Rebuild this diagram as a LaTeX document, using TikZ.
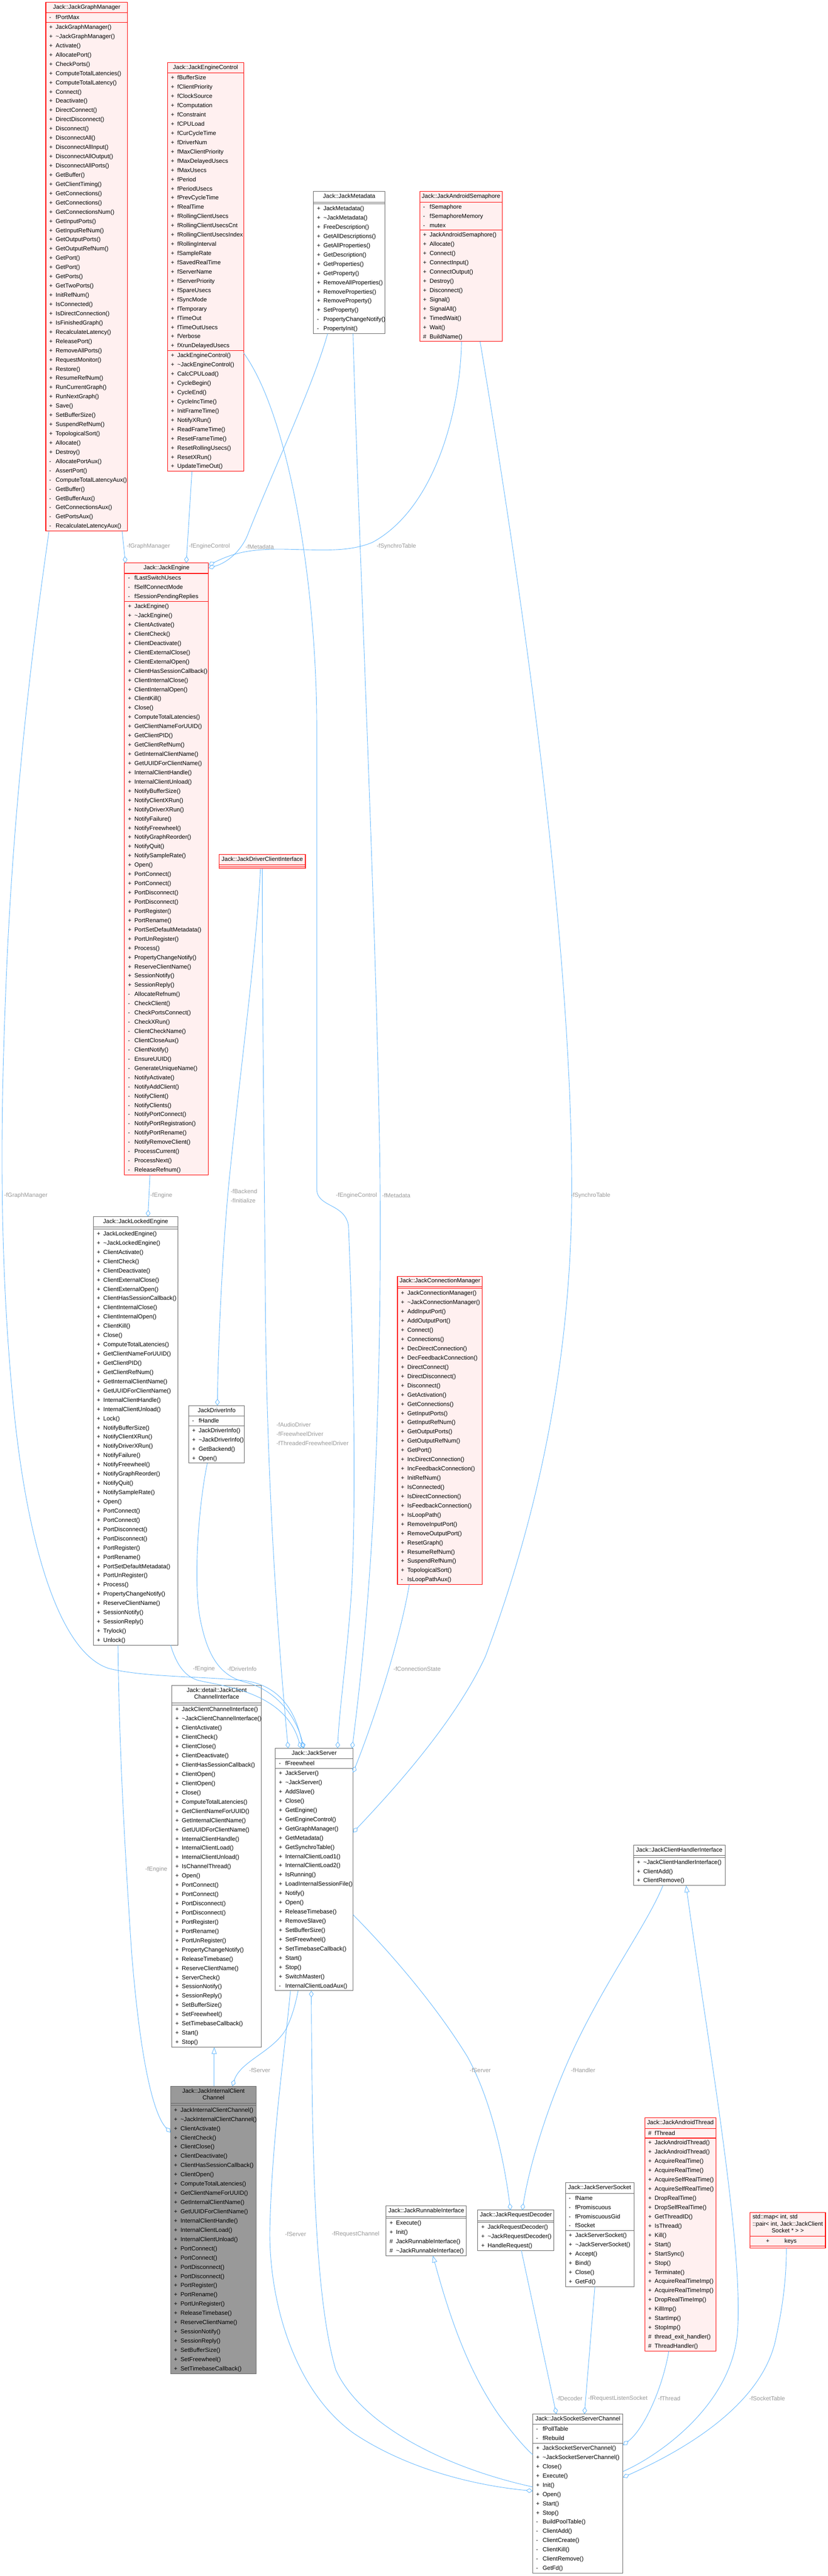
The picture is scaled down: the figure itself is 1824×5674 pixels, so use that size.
\documentclass[tikz,border=0pt]{standalone}
\usepackage{fontspec}
\setmainfont{Liberation Sans}
\usetikzlibrary{arrows.meta,calc}
\definecolor{jred}{HTML}{FF0000}
\definecolor{jpink}{HTML}{FFF0F0}
\definecolor{jgray}{HTML}{666666}
\definecolor{jmain}{HTML}{999999}
\definecolor{jblue}{HTML}{63B8FF}
\definecolor{jlabel}{HTML}{9A9A9A}
\newcommand\vP{\makebox[14.3bp][l]{+}}
\newcommand\vM{\makebox[14.3bp][l]{-}}
\newcommand\vH{\makebox[14.3bp][l]{\#}}
\newcommand\tld{\textasciitilde}
\newcommand\ttl[2]{\hbox to #1bp{\hss\fontsize{13bp}{15bp}\selectfont\begin{tabular}{@{}c@{}}\rule{0pt}{14bp}#2\rule[-8bp]{0pt}{0pt}\end{tabular}\hss}}
\newcommand\rws[2]{\hbox to #1bp{\hskip7.5bp\begin{tabular}{@{}l@{}}#2\end{tabular}\hss}}
\tikzset{
  box/.style={draw, outer sep=0pt, inner xsep=0pt, inner ysep=0.5bp, anchor=north west, font=\fontsize{13bp}{20.35bp}\selectfont},
  rb/.style={box, draw=jred, fill=jpink, line width=1.3bp},
  gb/.style={box, draw=jgray, fill=white, line width=1.1bp},
  mb/.style={box, draw=jgray, fill=jmain, line width=1.1bp},
  agg/.style={draw=jblue, line width=1bp, arrows={Diamond[open,length=15bp,width=10bp]-}},
  inh/.style={draw=jblue, line width=1bp, arrows={Triangle[open,length=15bp,width=11bp]-}},
  lbl/.style={text=jlabel, inner sep=0pt, anchor=west, font=\fontsize{13bp}{20.35bp}\selectfont, align=left},
}
\begin{document}
\begin{tikzpicture}[x=1bp,y=-1bp]
\useasboundingbox[fill=white] (0,0) rectangle (1824,5674);

% ---------- JackGraphManager
\node[rb] (gm) at (101,5) {\ttl{180}{Jack::JackGraphManager}};
\node[rb] (gm-a) at (gm.south west) {\rws{180}{\vM fPortMax}};
\node[rb] (gm-m) at (gm-a.south west) {\rws{180}{%
\vP JackGraphManager()\\ \vP \tld JackGraphManager()\\ \vP Activate()\\ \vP AllocatePort()\\ \vP CheckPorts()\\
\vP ComputeTotalLatencies()\\ \vP ComputeTotalLatency()\\ \vP Connect()\\ \vP Deactivate()\\ \vP DirectConnect()\\
\vP DirectDisconnect()\\ \vP Disconnect()\\ \vP DisconnectAll()\\ \vP DisconnectAllInput()\\ \vP DisconnectAllOutput()\\
\vP DisconnectAllPorts()\\ \vP GetBuffer()\\ \vP GetClientTiming()\\ \vP GetConnections()\\ \vP GetConnections()\\
\vP GetConnectionsNum()\\ \vP GetInputPorts()\\ \vP GetInputRefNum()\\ \vP GetOutputPorts()\\ \vP GetOutputRefNum()\\
\vP GetPort()\\ \vP GetPort()\\ \vP GetPorts()\\ \vP GetTwoPorts()\\ \vP InitRefNum()\\
\vP IsConnected()\\ \vP IsDirectConnection()\\ \vP IsFinishedGraph()\\ \vP RecalculateLatency()\\ \vP ReleasePort()\\
\vP RemoveAllPorts()\\ \vP RequestMonitor()\\ \vP Restore()\\ \vP ResumeRefNum()\\ \vP RunCurrentGraph()\\
\vP RunNextGraph()\\ \vP Save()\\ \vP SetBufferSize()\\ \vP SuspendRefNum()\\ \vP TopologicalSort()\\
\vP Allocate()\\ \vP Destroy()\\ \vM AllocatePortAux()\\ \vM AssertPort()\\ \vM ComputeTotalLatencyAux()\\
\vM GetBuffer()\\ \vM GetBufferAux()\\ \vM GetConnectionsAux()\\ \vM GetPortsAux()\\ \vM RecalculateLatencyAux()}};

% ---------- JackEngineControl
\node[rb] (ec) at (369,138) {\ttl{168}{Jack::JackEngineControl}};
\node[rb] (ec-a) at (ec.south west) {\rws{168}{%
\vP fBufferSize\\ \vP fClientPriority\\ \vP fClockSource\\ \vP fComputation\\ \vP fConstraint\\
\vP fCPULoad\\ \vP fCurCycleTime\\ \vP fDriverNum\\ \vP fMaxClientPriority\\ \vP fMaxDelayedUsecs\\
\vP fMaxUsecs\\ \vP fPeriod\\ \vP fPeriodUsecs\\ \vP fPrevCycleTime\\ \vP fRealTime\\
\vP fRollingClientUsecs\\ \vP fRollingClientUsecsCnt\\ \vP fRollingClientUsecsIndex\\ \vP fRollingInterval\\ \vP fSampleRate\\
\vP fSavedRealTime\\ \vP fServerName\\ \vP fServerPriority\\ \vP fSpareUsecs\\ \vP fSyncMode\\
\vP fTemporary\\ \vP fTimeOut\\ \vP fTimeOutUsecs\\ \vP fVerbose\\ \vP fXrunDelayedUsecs}};
\node[rb] (ec-m) at (ec-a.south west) {\rws{168}{%
\vP JackEngineControl()\\ \vP \tld JackEngineControl()\\ \vP CalcCPULoad()\\ \vP CycleBegin()\\ \vP CycleEnd()\\
\vP CycleIncTime()\\ \vP InitFrameTime()\\ \vP NotifyXRun()\\ \vP ReadFrameTime()\\ \vP ResetFrameTime()\\
\vP ResetRollingUsecs()\\ \vP ResetXRun()\\ \vP UpdateTimeOut()}};

% ---------- JackMetadata
\node[gb] (md) at (691,422) {\ttl{157}{Jack::JackMetadata}};
\node[gb] (md-a) at (md.south west) {\rws{157}{}};
\node[gb] (md-m) at (md-a.south west) {\rws{157}{%
\vP JackMetadata()\\ \vP \tld JackMetadata()\\ \vP FreeDescription()\\ \vP GetAllDescriptions()\\ \vP GetAllProperties()\\
\vP GetDescription()\\ \vP GetProperties()\\ \vP GetProperty()\\ \vP RemoveAllProperties()\\ \vP RemoveProperties()\\
\vP RemoveProperty()\\ \vP SetProperty()\\ \vM PropertyChangeNotify()\\ \vM PropertyInit()}};

% ---------- JackAndroidSemaphore
\node[rb] (as) at (925,422) {\ttl{182}{Jack::JackAndroidSemaphore}};
\node[rb] (as-a) at (as.south west) {\rws{182}{\vM fSemaphore\\ \vM fSemaphoreMemory\\ \vM mutex}};
\node[rb] (as-m) at (as-a.south west) {\rws{182}{%
\vP JackAndroidSemaphore()\\ \vP Allocate()\\ \vP Connect()\\ \vP ConnectInput()\\ \vP ConnectOutput()\\
\vP Destroy()\\ \vP Disconnect()\\ \vP Signal()\\ \vP SignalAll()\\ \vP TimedWait()\\ \vP Wait()\\ \vH BuildName()}};

% ---------- JackEngine
\node[rb] (en) at (274.5,1240) {\ttl{185}{Jack::JackEngine}};
\node[rb] (en-a) at (en.south west) {\rws{185}{\vM fLastSwitchUsecs\\ \vM fSelfConnectMode\\ \vM fSessionPendingReplies}};
\node[rb] (en-m) at (en-a.south west) {\rws{185}{%
\vP JackEngine()\\ \vP \tld JackEngine()\\ \vP ClientActivate()\\ \vP ClientCheck()\\ \vP ClientDeactivate()\\
\vP ClientExternalClose()\\ \vP ClientExternalOpen()\\ \vP ClientHasSessionCallback()\\ \vP ClientInternalClose()\\ \vP ClientInternalOpen()\\
\vP ClientKill()\\ \vP Close()\\ \vP ComputeTotalLatencies()\\ \vP GetClientNameForUUID()\\ \vP GetClientPID()\\
\vP GetClientRefNum()\\ \vP GetInternalClientName()\\ \vP GetUUIDForClientName()\\ \vP InternalClientHandle()\\ \vP InternalClientUnload()\\
\vP NotifyBufferSize()\\ \vP NotifyClientXRun()\\ \vP NotifyDriverXRun()\\ \vP NotifyFailure()\\ \vP NotifyFreewheel()\\
\vP NotifyGraphReorder()\\ \vP NotifyQuit()\\ \vP NotifySampleRate()\\ \vP Open()\\ \vP PortConnect()\\
\vP PortConnect()\\ \vP PortDisconnect()\\ \vP PortDisconnect()\\ \vP PortRegister()\\ \vP PortRename()\\
\vP PortSetDefaultMetadata()\\ \vP PortUnRegister()\\ \vP Process()\\ \vP PropertyChangeNotify()\\ \vP ReserveClientName()\\
\vP SessionNotify()\\ \vP SessionReply()\\ \vM AllocateRefnum()\\ \vM CheckClient()\\ \vM CheckPortsConnect()\\
\vM CheckXRun()\\ \vM ClientCheckName()\\ \vM ClientCloseAux()\\ \vM ClientNotify()\\ \vM EnsureUUID()\\
\vM GenerateUniqueName()\\ \vM NotifyActivate()\\ \vM NotifyAddClient()\\ \vM NotifyClient()\\ \vM NotifyClients()\\
\vM NotifyPortConnect()\\ \vM NotifyPortRegistration()\\ \vM NotifyPortRename()\\ \vM NotifyRemoveClient()\\ \vM ProcessCurrent()\\
\vM ProcessNext()\\ \vM ReleaseRefnum()}};

% ---------- JackDriverClientInterface
\node[rb] (dci) at (483,1882) {\ttl{190}{Jack::JackDriverClientInterface}};
\node[rb] (dci-a) at (dci.south west) {\rws{190}{}};
\node[rb] (dci-m) at (dci-a.south west) {\rws{190}{}};

% ---------- JackLockedEngine
\node[gb] (le) at (206,2680) {\ttl{186}{Jack::JackLockedEngine}};
\node[gb] (le-a) at (le.south west) {\rws{186}{}};
\node[gb] (le-m) at (le-a.south west) {\rws{186}{%
\vP JackLockedEngine()\\ \vP \tld JackLockedEngine()\\ \vP ClientActivate()\\ \vP ClientCheck()\\ \vP ClientDeactivate()\\
\vP ClientExternalClose()\\ \vP ClientExternalOpen()\\ \vP ClientHasSessionCallback()\\ \vP ClientInternalClose()\\ \vP ClientInternalOpen()\\
\vP ClientKill()\\ \vP Close()\\ \vP ComputeTotalLatencies()\\ \vP GetClientNameForUUID()\\ \vP GetClientPID()\\
\vP GetClientRefNum()\\ \vP GetInternalClientName()\\ \vP GetUUIDForClientName()\\ \vP InternalClientHandle()\\ \vP InternalClientUnload()\\
\vP Lock()\\ \vP NotifyBufferSize()\\ \vP NotifyClientXRun()\\ \vP NotifyDriverXRun()\\ \vP NotifyFailure()\\
\vP NotifyFreewheel()\\ \vP NotifyGraphReorder()\\ \vP NotifyQuit()\\ \vP NotifySampleRate()\\ \vP Open()\\
\vP PortConnect()\\ \vP PortConnect()\\ \vP PortDisconnect()\\ \vP PortDisconnect()\\ \vP PortRegister()\\
\vP PortRename()\\ \vP PortSetDefaultMetadata()\\ \vP PortUnRegister()\\ \vP Process()\\ \vP PropertyChangeNotify()\\
\vP ReserveClientName()\\ \vP SessionNotify()\\ \vP SessionReply()\\ \vP Trylock()\\ \vP Unlock()}};

% ---------- JackDriverInfo
\node[gb] (di) at (416,3096) {\ttl{123}{JackDriverInfo}};
\node[gb] (di-a) at (di.south west) {\rws{123}{\vM fHandle}};
\node[gb] (di-m) at (di-a.south west) {\rws{123}{\vP JackDriverInfo()\\ \vP \tld JackDriverInfo()\\ \vP GetBackend()\\ \vP Open()}};

% ---------- JackConnectionManager
\node[rb] (cm) at (876,2811) {\ttl{187}{Jack::JackConnectionManager}};
\node[rb] (cm-a) at (cm.south west) {\rws{187}{}};
\node[rb] (cm-m) at (cm-a.south west) {\rws{187}{%
\vP JackConnectionManager()\\ \vP \tld JackConnectionManager()\\ \vP AddInputPort()\\ \vP AddOutputPort()\\ \vP Connect()\\
\vP Connections()\\ \vP DecDirectConnection()\\ \vP DecFeedbackConnection()\\ \vP DirectConnect()\\ \vP DirectDisconnect()\\
\vP Disconnect()\\ \vP GetActivation()\\ \vP GetConnections()\\ \vP GetInputPorts()\\ \vP GetInputRefNum()\\
\vP GetOutputPorts()\\ \vP GetOutputRefNum()\\ \vP GetPort()\\ \vP IncDirectConnection()\\ \vP IncFeedbackConnection()\\
\vP InitRefNum()\\ \vP IsConnected()\\ \vP IsDirectConnection()\\ \vP IsFeedbackConnection()\\ \vP IsLoopPath()\\
\vP RemoveInputPort()\\ \vP RemoveOutputPort()\\ \vP ResetGraph()\\ \vP ResumeRefNum()\\ \vP SuspendRefNum()\\
\vP TopologicalSort()\\ \vM IsLoopPathAux()}};

% ---------- detail::JackClientChannelInterface
\node[gb] (cci) at (379,3713) {\ttl{197}{Jack::detail::JackClient\\ChannelInterface}};
\node[gb] (cci-a) at (cci.south west) {\rws{197}{}};
\node[gb] (cci-m) at (cci-a.south west) {\rws{197}{%
\vP JackClientChannelInterface()\\ \vP \tld JackClientChannelInterface()\\ \vP ClientActivate()\\ \vP ClientCheck()\\ \vP ClientClose()\\
\vP ClientDeactivate()\\ \vP ClientHasSessionCallback()\\ \vP ClientOpen()\\ \vP ClientOpen()\\ \vP Close()\\
\vP ComputeTotalLatencies()\\ \vP GetClientNameForUUID()\\ \vP GetInternalClientName()\\ \vP GetUUIDForClientName()\\ \vP InternalClientHandle()\\
\vP InternalClientLoad()\\ \vP InternalClientUnload()\\ \vP IsChannelThread()\\ \vP Open()\\ \vP PortConnect()\\
\vP PortConnect()\\ \vP PortDisconnect()\\ \vP PortDisconnect()\\ \vP PortRegister()\\ \vP PortRename()\\
\vP PortUnRegister()\\ \vP PropertyChangeNotify()\\ \vP ReleaseTimebase()\\ \vP ReserveClientName()\\ \vP ServerCheck()\\
\vP SessionNotify()\\ \vP SessionReply()\\ \vP SetBufferSize()\\ \vP SetFreewheel()\\ \vP SetTimebaseCallback()\\
\vP Start()\\ \vP Stop()}};

% ---------- JackServer
\node[gb] (sv) at (607,3851) {\ttl{171}{Jack::JackServer}};
\node[gb] (sv-a) at (sv.south west) {\rws{171}{\vM fFreewheel}};
\node[gb] (sv-m) at (sv-a.south west) {\rws{171}{%
\vP JackServer()\\ \vP \tld JackServer()\\ \vP AddSlave()\\ \vP Close()\\ \vP GetEngine()\\
\vP GetEngineControl()\\ \vP GetGraphManager()\\ \vP GetMetadata()\\ \vP GetSynchroTable()\\ \vP InternalClientLoad1()\\
\vP InternalClientLoad2()\\ \vP IsRunning()\\ \vP LoadInternalSessionFile()\\ \vP Notify()\\ \vP Open()\\
\vP ReleaseTimebase()\\ \vP RemoveSlave()\\ \vP SetBufferSize()\\ \vP SetFreewheel()\\ \vP SetTimebaseCallback()\\
\vP Start()\\ \vP Stop()\\ \vP SwitchMaster()\\ \vM InternalClientLoadAux()}};

% ---------- JackInternalClientChannel
\node[mb] (icc) at (376,4595) {\ttl{189}{Jack::JackInternalClient\\Channel}};
\node[mb] (icc-a) at (icc.south west) {\rws{189}{}};
\node[mb] (icc-m) at (icc-a.south west) {\rws{189}{%
\vP JackInternalClientChannel()\\ \vP \tld JackInternalClientChannel()\\ \vP ClientActivate()\\ \vP ClientCheck()\\ \vP ClientClose()\\
\vP ClientDeactivate()\\ \vP ClientHasSessionCallback()\\ \vP ClientOpen()\\ \vP ComputeTotalLatencies()\\ \vP GetClientNameForUUID()\\
\vP GetInternalClientName()\\ \vP GetUUIDForClientName()\\ \vP InternalClientHandle()\\ \vP InternalClientLoad()\\ \vP InternalClientUnload()\\
\vP PortConnect()\\ \vP PortConnect()\\ \vP PortDisconnect()\\ \vP PortDisconnect()\\ \vP PortRegister()\\
\vP PortRename()\\ \vP PortUnRegister()\\ \vP ReleaseTimebase()\\ \vP ReserveClientName()\\ \vP SessionNotify()\\
\vP SessionReply()\\ \vP SetBufferSize()\\ \vP SetFreewheel()\\ \vP SetTimebaseCallback()}};

% ---------- JackClientHandlerInterface
\node[gb] (chi) at (1396,4064) {\ttl{202}{Jack::JackClientHandlerInterface}};
\node[gb] (chi-a) at (chi.south west) {\rws{202}{}};
\node[gb] (chi-m) at (chi-a.south west) {\rws{202}{\vP \tld JackClientHandlerInterface()\\ \vP ClientAdd()\\ \vP ClientRemove()}};

% ---------- JackAndroidThread
\node[rb] (at) at (1421,4665) {\ttl{157}{Jack::JackAndroidThread}};
\node[rb] (at-a) at (at.south west) {\rws{157}{\vH fThread}};
\node[rb] (at-m) at (at-a.south west) {\rws{157}{%
\vP JackAndroidThread()\\ \vP JackAndroidThread()\\ \vP AcquireRealTime()\\ \vP AcquireRealTime()\\ \vP AcquireSelfRealTime()\\
\vP AcquireSelfRealTime()\\ \vP DropRealTime()\\ \vP DropSelfRealTime()\\ \vP GetThreadID()\\ \vP IsThread()\\
\vP Kill()\\ \vP Start()\\ \vP StartSync()\\ \vP Stop()\\ \vP Terminate()\\
\vP AcquireRealTimeImp()\\ \vP AcquireRealTimeImp()\\ \vP DropRealTimeImp()\\ \vP KillImp()\\ \vP StartImp()\\
\vP StopImp()\\ \vH thread\_exit\_handler()\\ \vH ThreadHandler()}};

% ---------- std::map
\node[rb] (map) at (1653,4873) {\hbox to 166bp{\hss\fontsize{13bp}{15bp}\selectfont\begin{tabular}{@{}l@{}}\rule{0pt}{14bp}std::map< int, std\\::pair< int, Jack::JackClient\\\multicolumn{1}{@{}c@{}}{Socket * > >\rule[-8bp]{0pt}{0pt}}\end{tabular}\hss}};
\node[rb] (map-a) at (map.south west) {\hbox to 166bp{\hskip35bp\begin{tabular}{@{}l@{}}+\hskip33.4bp keys\end{tabular}\hss}};
\node[rb] (map-m) at (map-a.south west) {\rws{166}{}};

% ---------- JackRunnableInterface
\node[gb] (ri) at (851,4859) {\ttl{177}{Jack::JackRunnableInterface}};
\node[gb] (ri-a) at (ri.south west) {\rws{177}{}};
\node[gb] (ri-m) at (ri-a.south west) {\rws{177}{\vP Execute()\\ \vP Init()\\ \vH JackRunnableInterface()\\ \vH \tld JackRunnableInterface()}};

% ---------- JackRequestDecoder
\node[gb] (rd) at (1053,4868) {\ttl{168}{Jack::JackRequestDecoder}};
\node[gb] (rd-a) at (rd.south west) {\rws{168}{}};
\node[gb] (rd-m) at (rd-a.south west) {\rws{168}{\vP JackRequestDecoder()\\ \vP \tld JackRequestDecoder()\\ \vP HandleRequest()}};

% ---------- JackServerSocket
\node[gb] (ss) at (1246,4808) {\ttl{151}{Jack::JackServerSocket}};
\node[gb] (ss-a) at (ss.south west) {\rws{151}{\vM fName\\ \vM fPromiscuous\\ \vM fPromiscuousGid\\ \vM fSocket}};
\node[gb] (ss-m) at (ss-a.south west) {\rws{151}{\vP JackServerSocket()\\ \vP \tld JackServerSocket()\\ \vP Accept()\\ \vP Bind()\\ \vP Close()\\ \vP GetFd()}};

% ---------- JackSocketServerChannel
\node[gb] (ssc) at (1174,5317) {\ttl{199}{Jack::JackSocketServerChannel}};
\node[gb] (ssc-a) at (ssc.south west) {\rws{199}{\vM fPollTable\\ \vM fRebuild}};
\node[gb] (ssc-m) at (ssc-a.south west) {\rws{199}{%
\vP JackSocketServerChannel()\\ \vP \tld JackSocketServerChannel()\\ \vP Close()\\ \vP Execute()\\ \vP Init()\\
\vP Open()\\ \vP Start()\\ \vP Stop()\\ \vM BuildPoolTable()\\ \vM ClientAdd()\\
\vM ClientCreate()\\ \vM ClientKill()\\ \vM ClientRemove()\\ \vM GetFd()}};

% ================= connectors
% into JackEngine
\draw[agg] ($(en.north west)+(2,0)$) -- ($(gm-m.south west)+(168,0)$);
\draw[agg] ($(en.north west)+(136,0)$) -- ($(ec-m.south west)+(54,0)$);
\draw[agg] ($(en.north east)+(0,11)$) .. controls (500,1240) and (530,1215) .. (545,1180) .. controls (600,1040) and (690,850) .. ($(md-m.south west)+(31,0)$);
\draw[agg] ($(en.north east)+(0,5)$) .. controls (520,1215) and (560,1208) .. (640,1210) .. controls (720,1212) and (770,1215) .. (820,1195) .. controls (960,1120) and (1015,900) .. ($(as-m.south west)+(92,0)$);
% into JackLockedEngine
\draw[agg] ($(le.north west)+(120,0)$) -- ($(en-m.south west)+(56,0)$);
% into JackDriverInfo
\draw[agg] ($(di.north west)+(63,0)$) .. controls (482,2900) and (495,2700) .. (505,2600) .. controls (530,2350) and (565,2100) .. ($(dci-m.south west)+(91,0)$);
% into JackServer (top)
\draw[agg] ($(sv.north west)+(61,0)$) .. controls (650,3760) and (610,3712) .. (540,3702) .. controls (450,3692) and (320,3695) .. (240,3675) .. controls (130,3640) and (60,3400) .. (30,3100) .. controls (0,2800) and (0,2500) .. (12,2200) .. controls (30,1700) and (90,1300) .. ($(gm-m.south west)+(7,0)$);
\draw[agg] ($(sv.north west)+(28,0)$) .. controls (612,3600) and (590,3300) .. (585,2900) .. controls (582,2500) and (578,2200) .. ($(dci-m.south west)+(95,0)$);
\draw[agg] ($(sv.north west)+(56,0)$) .. controls (630,3730) and (500,3715) .. (440,3702) .. controls (410,3695) and (390,3670) .. ($(le-m.south west)+(170,0)$);
\draw[agg] ($(sv.north west)+(63,0)$) .. controls (650,3770) and (600,3720) .. (540,3705) .. controls (480,3690) and (455,3640) .. (440,3560) .. controls (425,3470) and (440,3300) .. ($(di-m.south west)+(41,0)$);
\draw[agg] ($(sv.north west)+(137,0)$) .. controls (748,3760) and (765,3650) .. (775,3500) .. controls (785,3300) and (780,3000) .. (768,2700) .. controls (760,2650) and (700,2660) .. (698,2620) -- (698,1600) .. controls (698,1300) and (640,920) .. ($(ec-m.north east)+(0,5)$);
\draw[agg] ($(sv.north west)+(169,0)$) .. controls (805,3620) and (838,3300) .. (838,2700) .. controls (838,2200) and (790,1200) .. ($(md-m.south west)+(87,0)$);
% into JackServer (right)
\draw[agg] ($(sv-m.north east)+(0,9)$) .. controls (820,3800) and (880,3620) .. ($(cm-m.south west)+(26,0)$);
\draw[agg] ($(sv-m.north east)+(0,141)$) .. controls (850,3960) and (1000,3800) .. (1070,3648) .. controls (1200,3300) and (1262,2950) .. (1260,2600) .. controls (1258,2200) and (1200,1600) .. ($(as-m.south west)+(133,0)$);
% into JackInternalClientChannel
\draw[agg] ($(icc-m.north west)+(0,60)$) .. controls (340,4660) and (310,4550) .. (290,4300) .. controls (270,4000) and (262,3800) .. ($(le-m.south west)+(54,0)$);
\draw[agg] ($(icc.north west)+(136,0)$) .. controls (530,4540) and (600,4520) .. (630,4470) .. controls (645,4440) and (652,4410) .. ($(sv-m.south west)+(50,0)$);
\draw[inh] ($(cci-m.south west)+(93,0)$) -- ($(icc.north west)+(96,0)$);
% into JackRequestDecoder
\draw[agg] ($(rd.north west)+(72,0)$) .. controls (1110,4750) and (1080,4620) .. (1030,4530) .. controls (950,4400) and (840,4280) .. ($(sv-m.north east)+(0,322)$);
\draw[agg] ($(rd.north west)+(98,0)$) .. controls (1170,4750) and (1220,4600) .. (1280,4480) .. controls (1350,4340) and (1430,4230) .. ($(chi-m.south west)+(65,0)$);
% JackSocketServerChannel
\draw[inh] ($(chi-m.south west)+(116,0)$) .. controls (1560,4500) and (1640,4950) .. (1625,5140) .. controls (1610,5300) and (1450,5410) .. ($(ssc-m.north east)+(0,62)$);
\draw[inh] ($(ri-m.south west)+(103,0)$) .. controls (990,5100) and (1030,5220) .. (1100,5320) .. controls (1130,5360) and (1155,5390) .. ($(ssc-m.north west)+(0,25)$);
\draw[agg] ($(ssc.north west)+(52,0)$) -- ($(rd-m.south west)+(96,0)$);
\draw[agg] ($(ssc.north west)+(114,0)$) -- ($(ss-m.south west)+(65,0)$);
\draw[agg] ($(ssc-m.north east)+(0,4)$) .. controls (1420,5350) and (1460,5260) .. ($(at-m.south west)+(53,0)$);
\draw[agg] ($(ssc-m.north east)+(0,75)$) .. controls (1500,5400) and (1680,5300) .. (1710,5150) .. controls (1725,5080) and (1733,5020) .. ($(map-m.south west)+(80,0)$);
\draw[agg] ($(ssc-m.north west)+(0,105)$) .. controls (1050,5475) and (900,5440) .. (780,5360) .. controls (640,5260) and (590,5050) .. (595,4900) .. controls (600,4700) and (630,4500) .. ($(sv-m.south west)+(33,0)$);
\draw[agg] ($(sv-m.south west)+(79,0)$) .. controls (688,4700) and (690,5050) .. (740,5220) .. controls (800,5350) and (1000,5440) .. ($(ssc-m.north west)+(0,96)$);

% ================= labels
\node[lbl] (l1) at (279,1204) {-fGraphManager};
\node[lbl] (l2) at (416,1204) {-fEngineControl};
\node[lbl] (l3) at (541,1204) {-fMetadata};
\node[lbl] (l4) at (830,1204) {-fSynchroTable};
\node[lbl] (l5) at (9,2633) {-fGraphManager};
\node[lbl] (l6) at (331,2633) {-fEngine};
\node[lbl] (l7) at (508,2634) {-fBackend\\-fInitialize};
\node[lbl] (l8) at (740,2633) {-fEngineControl};
\node[lbl] (l9) at (842,2633) {-fMetadata};
\node[lbl] (l10) at (1258,2633) {-fSynchroTable};
\node[lbl] (l11) at (609,3159) {-fAudioDriver\\-fFreewheelDriver\\-fThreadedFreewheelDriver};
\node[lbl] (l12) at (425,3676) {-fEngine};
\node[lbl] (l13) at (501,3676) {-fDriverInfo};
\node[lbl] (l14) at (867,3676) {-fConnectionState};
\node[lbl] (l15) at (320,4118) {-fEngine};
\node[lbl] (l16) at (549,4560) {-fServer};
\node[lbl] (l17) at (1035,4560) {-fServer};
\node[lbl] (l18) at (1258,4560) {-fHandler};
\node[lbl] (l19) at (628,4921) {-fServer};
\node[lbl] (l20) at (731,4921) {-fRequestChannel};
\node[lbl] (l21) at (1226,5283) {-fDecoder};
\node[lbl] (l22) at (1296,5283) {-fRequestListenSocket};
\node[lbl] (l23) at (1450,5283) {-fThread};
\node[lbl] (l24) at (1651,5283) {-fSocketTable};
\end{tikzpicture}
\end{document}
